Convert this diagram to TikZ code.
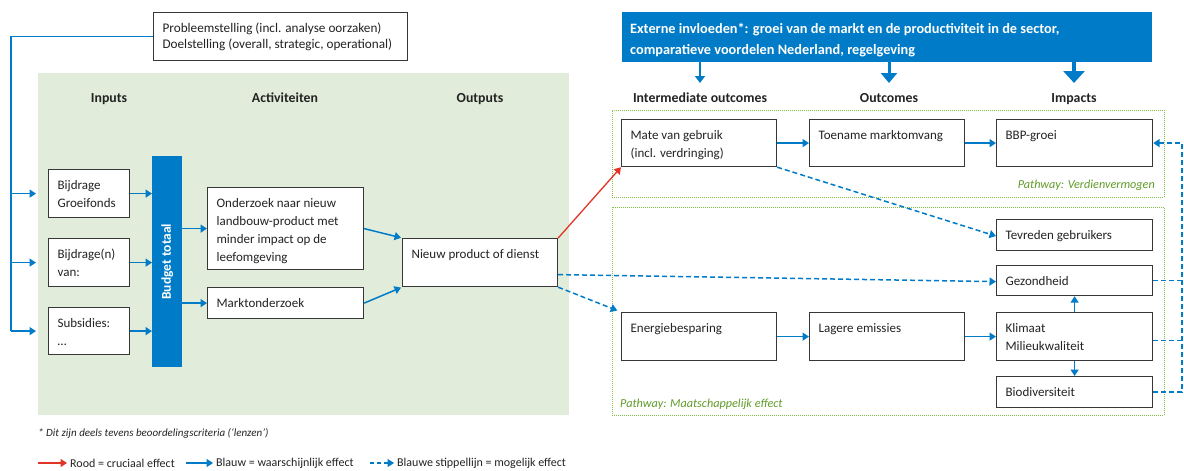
\documentclass[tikz,border=0pt]{standalone}
\usepackage{fontspec}
\setmainfont{Carlito}
\usetikzlibrary{arrows.meta,calc}

\definecolor{rblue}{RGB}{0,123,199}
\definecolor{rred}{RGB}{226,52,38}
\definecolor{panelgreen}{RGB}{225,236,218}
\definecolor{framegreen}{RGB}{130,190,70}
\definecolor{pathgreen}{RGB}{95,155,40}
\definecolor{boxline}{RGB}{55,55,55}
\definecolor{ink}{RGB}{35,35,35}

% framed box with its text set from the top-left corner
\newcommand\flowbox[6]{%
  \pgfmathsetmacro\bxw{#4-#2}%
  \pgfmathsetmacro\bxh{#5-#3}%
  \node[box] (#1) at (#2,#3)
    {\parbox[c][\bxh pt][t]{\bxw pt}{\leftskip=9pt\rightskip=0pt plus 1fil\rule{0pt}{19.5pt}#6}};
}

\begin{document}
\begin{tikzpicture}[x=1pt,y=-1pt,
  font=\fontsize{13}{18}\selectfont, text=ink,
  box/.style={draw=boxline, line width=1.2pt, fill=white, inner sep=0pt, anchor=north west},
  hdr/.style={font=\bfseries\fontsize{13.8}{16}\selectfont, inner sep=0pt, anchor=base},
  tipS/.style={-{Triangle[length=6.5pt,width=8pt]}},
  bline/.style={draw=rblue, line width=1.5pt},
  barrow/.style={bline, tipS},
  darrow/.style={bline, dash pattern=on 5pt off 3pt, tipS},
  dline/.style={bline, dash pattern=on 5pt off 3pt},
  rarrow/.style={draw=rred, line width=1.3pt, tipS},
  frame/.style={draw=framegreen, line width=0.9pt, dash pattern=on 1pt off 1pt, inner sep=0pt, anchor=north west},
  pathtxt/.style={text=pathgreen, font=\itshape\fontsize{12.2}{14}\selectfont, inner sep=0pt},
  legtxt/.style={font=\fontsize{12}{14}\selectfont, inner sep=0pt, anchor=west},
]
\useasboundingbox (0,0) rectangle (1184,471);

% shaded programme area
\node[fill=panelgreen, inner sep=0pt, anchor=north west, minimum width=531pt, minimum height=342pt] (panel) at (38,73) {};

% pathway frames
\node[frame, minimum width=552pt, minimum height=87pt] (pw1) at (612,110) {};
\node[frame, minimum width=552pt, minimum height=208pt] (pw2) at (612,207) {};
\node[pathtxt, anchor=base east] (pw1t) at (1155,188) {Pathway: Verdienvermogen};
\node[pathtxt, anchor=base west] (pw2t) at (620,407) {Pathway: Maatschappelijk effect};

% column headers
\node[hdr] (hIn)  at (109,102) {Inputs};
\node[hdr] (hAct) at (285,102) {Activiteiten};
\node[hdr] (hOut) at (480,102) {Outputs};
\node[hdr] (hInt) at (700,102) {Intermediate outcomes};
\node[hdr] (hOc)  at (889,102) {Outcomes};
\node[hdr] (hImp) at (1074,102) {Impacts};

% problem statement
\node[box] (prob) at (153,12)
  {\parbox[c][48pt][t]{254pt}{\fontsize{13.2}{16}\selectfont\leftskip=9pt\rule{0pt}{19.5pt}Probleemstelling (incl. analyse oorzaken)\\Doelstelling (overall, strategic, operational)}};

% inputs
\flowbox{in1}{48}{169}{129}{217}{Bijdrage\\Groeifonds}
\flowbox{in2}{48}{238}{129}{286}{Bijdrage(n)\\van:}
\flowbox{in3}{48}{307}{129}{354}{Subsidies:\\…}

% budget bar
\node[fill=rblue, inner sep=0pt, anchor=north west, minimum width=30pt, minimum height=211pt] (bar) at (152,156) {};
\node[rotate=90, text=white, font=\bfseries\fontsize{13.5}{15}\selectfont, inner sep=0pt] (bart) at (bar.center) {Budget totaal};

% activities and output
\flowbox{act1}{207}{187}{363}{269}{Onderzoek naar nieuw\\landbouw-product met\\minder impact op de\\leefomgeving}
\flowbox{act2}{207}{287}{363}{318}{Marktonderzoek}
\flowbox{nieuw}{402}{238}{557}{286}{Nieuw product of dienst}

% external influences banner
\node[fill=rblue, inner sep=0pt, anchor=north west] (ext) at (622,12)
  {\parbox[c][50pt][t]{530pt}{\color{white}\bfseries\fontsize{14.3}{21}\selectfont\leftskip=8pt\rule{0pt}{21pt}Externe invloeden*: groei van de markt en de productiviteit in de sector,\\comparatieve voordelen Nederland, regelgeving}};

% outcomes and impacts
\flowbox{mate}{621}{119}{776}{166}{Mate van gebruik\\(incl. verdringing)}
\flowbox{toen}{809}{119}{964}{166}{Toename marktomvang}
\flowbox{bbp}{996}{119}{1152}{166}{BBP-groei}
\flowbox{tevr}{996}{219}{1152}{250}{Tevreden gebruikers}
\flowbox{gez}{996}{265}{1152}{295}{Gezondheid}
\flowbox{energ}{621}{312}{776}{360}{Energiebesparing}
\flowbox{lager}{809}{312}{964}{360}{Lagere emissies}
\flowbox{klim}{996}{312}{1152}{360}{Klimaat\\Milieukwaliteit}
\flowbox{bio}{996}{376}{1152}{407}{Biodiversiteit}

% feed from the problem statement to the inputs
\coordinate (lx) at (11,0);
\draw[bline] (prob.west) -| (lx |- in3.west);
\draw[barrow, shorten >=12pt] (lx |- in1.west) -- (in1.west);
\draw[barrow, shorten >=12pt] (lx |- in2.west) -- (in2.west);
\draw[barrow, shorten >=12pt] (lx |- in3.west) -- (in3.west);

% inputs into budget, budget into activities
\draw[barrow] (in1.east) -- (in1.east -| bar.west);
\draw[barrow] (in2.east) -- (in2.east -| bar.west);
\draw[barrow] (in3.east) -- (in3.east -| bar.west);
\draw[barrow] (act1.west -| bar.east) -- (act1.west);
\draw[barrow] (act2.west -| bar.east) -- (act2.west);

% activities into output
\draw[barrow, shorten >=1pt] (act1.east) -- (nieuw.north west);
\draw[barrow, shorten >=1pt] (act2.east) -- (nieuw.south west);

% output into outcomes
\draw[rarrow] (nieuw.north east) -- (mate.south west);
\draw[darrow] ([yshift=-12pt]nieuw.east) -- ([yshift=-1pt]gez.west);
\draw[darrow, shorten >=4pt] (nieuw.south east) -- (energ.north west);
\draw[darrow] (mate.south east) -- ([yshift=-1pt]tevr.west);

% chains
\draw[barrow] (mate.east) -- (toen.west);
\draw[barrow] (toen.east) -- (bbp.west);
\draw[barrow] (energ.east) -- (lager.west);
\draw[barrow] (lager.east) -- (klim.west);
\draw[barrow] (klim.north) -- (gez.south);
\draw[barrow] (klim.south) -- (bio.north);

% feedback into BBP-groei
\coordinate (rx) at (1182,0);
\draw[dline] (gez.east) -- (gez.east -| rx);
\draw[dline] ([yshift=-4pt]klim.east) -- ([yshift=-4pt]klim.east -| rx);
\draw[darrow] (bio.east) -| (rx |- bbp.east) -- (bbp.east);

% external influences pointing down
\coordinate (dI) at (700,83);
\coordinate (dO) at (889,83);
\coordinate (dM) at (1074,83);
\draw[draw=rblue, line width=1.6pt, -{Triangle[length=7pt,width=10pt]}] (ext.south -| dI) -- (dI);
\draw[draw=rblue, line width=3pt, -{Triangle[length=10pt,width=16pt]}] (ext.south -| dO) -- (dO);
\draw[draw=rblue, line width=4.3pt, -{Triangle[length=12pt,width=21pt]}] (ext.south -| dM) -- (dM);

% footnote and legend
\node[anchor=base west, inner sep=0pt, font=\itshape\fontsize{11}{13}\selectfont] (fn) at (38,436) {* Dit zijn deels tevens beoordelingscriteria (‘lenzen’)};
\node[legtxt] (lg1) at (70,463) {Rood = cruciaal effect};
\node[legtxt] (lg2) at (216,463) {Blauw = waarschijnlijk effect};
\node[legtxt] (lg3) at (397,463) {Blauwe stippellijn = mogelijk effect};
\coordinate (la1) at (38,463);
\coordinate (la2) at (186,463);
\coordinate (la3) at (370,463);
\draw[rarrow, line width=1.5pt] (la1) -- ([xshift=-3pt]lg1.west);
\draw[barrow] (la2) -- ([xshift=-3pt]lg2.west);
\draw[darrow, dash pattern=on 4pt off 3pt] (la3) -- ([xshift=-3pt]lg3.west);
\end{tikzpicture}
\end{document}
